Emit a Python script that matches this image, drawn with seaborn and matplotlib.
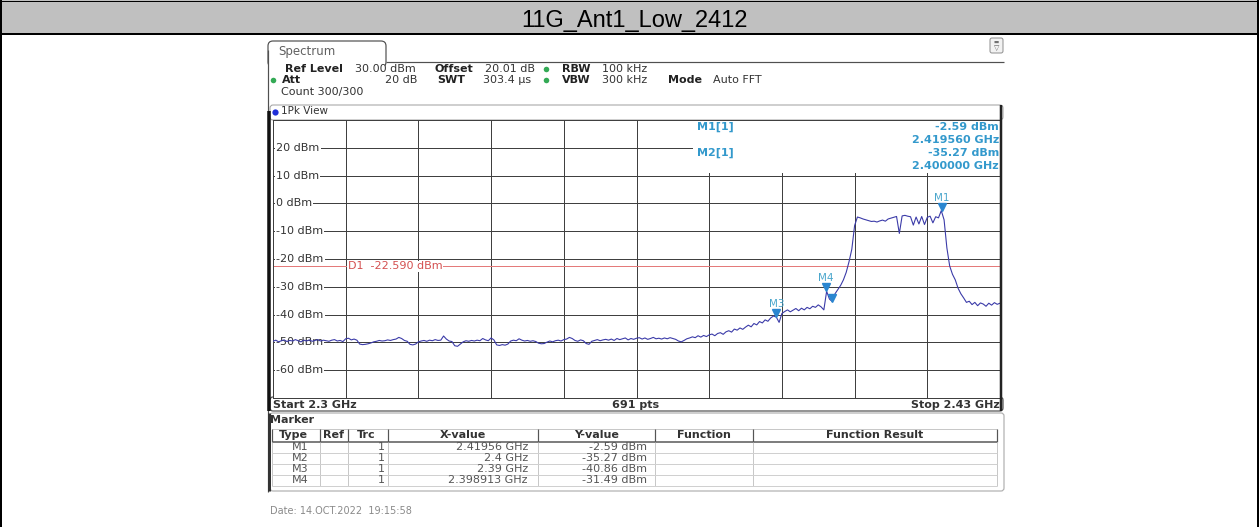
import matplotlib
matplotlib.use("Agg")
import numpy as np
import pandas as pd
import matplotlib.pyplot as plt
from matplotlib.patches import Rectangle, FancyBboxPatch
from matplotlib.transforms import offset_copy
import seaborn as sns

W, H = 1259, 527

TITLE = "11G_Ant1_Low_2412"
START_GHZ = 2.30
STOP_GHZ = 2.43
N_PTS = 691
REF_DBM = 30.0
BOTTOM_DBM = -70.0
D1_DBM = -22.59
Y_TICKS = [20, 10, 0, -10, -20, -30, -40, -50, -60]

# trace, one value every 0.5 MHz from 2300 to 2430 MHz
LEVEL_DBM = [
    -49.6, -49.2, -49.8, -49.4, -49.1, -49.7, -49.3, -49.5, -49.0, -49.4,
    -49.8, -49.2, -49.5, -49.1, -49.6, -49.3, -49.0, -49.5, -49.2, -49.4,
    -49.6, -49.2, -49.0, -49.5, -49.3, -49.7, -48.7, -48.5, -49.1, -48.8,
    -49.2, -50.6, -50.8, -50.7, -50.5, -50.2, -49.8, -49.6, -49.3, -49.5,
    -49.4, -49.1, -49.3, -49.0, -48.8, -48.2, -48.6, -49.3, -49.6, -50.7,
    -50.9, -50.6, -49.8, -49.5, -49.3, -49.6, -49.2, -49.4, -49.0, -49.3,
    -49.2, -47.7, -48.8, -49.5, -49.7, -51.2, -51.4, -50.6, -49.8, -49.4,
    -49.6, -49.3, -49.5, -49.2, -49.4, -48.6, -49.1, -49.4, -48.4, -49.1,
    -50.9, -51.1, -50.8, -51.0, -50.6, -49.5, -49.2, -49.4, -48.7, -49.2,
    -49.5, -49.3, -49.6, -49.4, -49.7, -50.3, -50.5, -50.4, -49.9, -49.5,
    -49.8, -49.4, -49.2, -49.5, -49.0, -48.8, -48.2, -48.6, -49.3, -49.6,
    -49.1, -49.4, -50.4, -50.7, -49.6, -49.3, -49.0, -49.4, -49.1, -48.9,
    -49.2, -48.8, -49.3, -48.6, -49.0, -48.7, -48.4, -49.1, -48.6, -48.9,
    -48.5, -48.3, -48.8, -48.4, -48.9, -48.6, -48.2, -48.7, -48.5, -48.8,
    -48.4, -48.7, -48.3, -48.6, -48.9, -49.5, -49.8, -49.3, -48.7, -48.4,
    -48.0, -48.3, -47.6, -48.1, -47.5, -47.9, -47.3, -47.0, -47.6, -46.8,
    -46.5, -47.1, -46.2, -45.8, -46.3, -45.2, -45.6, -44.8, -45.3, -44.5,
    -43.8, -44.4, -43.2, -43.7, -42.5, -43.0, -41.9, -42.4, -41.2, -40.5,
    -40.9, -42.8, -39.6, -38.9, -38.3, -39.0, -38.4, -37.8, -38.6, -37.7,
    -38.3, -37.4, -37.9, -37.0, -37.4, -36.5, -37.2, -38.3, -31.6, -34.4,
    -35.3, -32.5, -31.0, -29.5, -27.5, -24.8, -21.0, -16.5, -8.0, -4.9,
    -5.2, -5.6, -5.9, -6.2, -6.5, -6.4, -6.7, -6.3, -6.0, -6.4,
    -5.6, -5.3, -5.0, -4.7, -10.8, -4.5, -4.3, -4.6, -4.8, -7.8,
    -4.9, -7.4, -4.7, -7.6, -5.0, -4.6, -7.0, -4.8, -5.2, -2.6,
    -5.9, -16.0, -22.5, -25.5, -27.5, -30.5, -32.5, -34.0, -35.6, -35.2, -36.4,
    -35.6, -36.8, -35.8, -36.2, -37.0, -35.9, -36.6, -35.7, -36.3, -35.9,
]

MARKER_NAMES = ["M1", "M2", "M3", "M4"]
MARKER_GHZ = [2.41956, 2.4, 2.39, 2.398913]
MARKER_DBM = [-2.59, -35.27, -40.86, -31.49]
MARKER_X_TEXT = ["2.41956 GHz", "2.4 GHz", "2.39 GHz", "2.398913 GHz"]
MARKER_LABELLED = ["M1", "M3", "M4"]

TABLE_HEADER = ["Type", "Ref", "Trc", "X-value", "Y-value", "Function", "Function Result"]

sns.set_theme(style="white")
plt.rcParams["font.family"] = ["DejaVu Sans"]

PX = 0.72  # one pixel in points at dpi 100
TXT = "#333333"
CYAN = "#3399cc"
MK_BLUE = "#2a86d0"
TRACE = "#3a3aa8"
GRID = "#404040"

fig = plt.figure(figsize=(W / 100, H / 100), dpi=100)
fig.patch.set_facecolor("white")

bg = fig.add_axes([0, 0, 1, 1], label="bg")
bg.set_xlim(0, W)
bg.set_ylim(H, 0)
bg.axis("off")


def seg(a, xs, ys, color="#000000", px=1.0, **kw):
    a.plot(xs, ys, color=color, lw=px * PX, solid_capstyle="butt", **kw)


# page frame and title bar
bg.add_patch(Rectangle((0, 0), W, 33, facecolor="#c0c0c0", edgecolor="none"))
seg(bg, [0, W], [0.5, 0.5], px=1)
seg(bg, [0, W], [34, 34], px=2)
seg(bg, [1, 1], [0, H], px=2)
seg(bg, [W - 1, W - 1], [0, H], px=2)
bg.text(635, 27, TITLE, family=["Liberation Sans", "DejaVu Sans"], fontsize=17,
        ha="center", va="baseline", color="#000000", zorder=5)

# instrument window: tab and outline
bg.add_patch(FancyBboxPatch((268, 41), 118, 26, boxstyle="round,pad=0,rounding_size=5",
                            facecolor="white", edgecolor="#505050", lw=1.2 * PX))
bg.add_patch(Rectangle((268, 56), 117, 12, facecolor="white", edgecolor="none"))
seg(bg, [386, 1004], [62, 62], color="#505050", px=1.2)
seg(bg, [268, 268], [50, 492], color="#505050", px=1.2)
bg.text(278, 51, "Spectrum", fontsize=8.5, color="#606060", va="center")

# top right icon
bg.add_patch(FancyBboxPatch((990, 38), 13, 15, boxstyle="round,pad=0,rounding_size=2",
                            facecolor="#f2f2f2", edgecolor="#909090", lw=1 * PX))
bg.text(996.5, 42.5, "▬", fontsize=4, ha="center", va="center", color="#707070")
bg.text(996.5, 48.5, "▽", fontsize=5, ha="center", va="center", color="#606060")

# header lines
hdr = dict(fontsize=8, va="center", color=TXT)
bold = dict(fontsize=8, va="center", color="#222222", fontweight="bold")
y1, y2, y3 = 69, 80, 92
bg.text(285, y1, "Ref Level", **bold)
bg.text(355, y1, "30.00 dBm", **hdr)
bg.text(435, y1, "Offset", **bold)
bg.text(485, y1, "20.01 dB", **hdr)
bg.text(562, y1, "RBW", **bold)
bg.text(602, y1, "100 kHz", **hdr)
bg.text(282, y2, "Att", **bold)
bg.text(417, y2, "20 dB", ha="right", **hdr)
bg.text(437, y2, "SWT", **bold)
bg.text(483, y2, "303.4 µs", **hdr)
bg.text(562, y2, "VBW", **bold)
bg.text(602, y2, "300 kHz", **hdr)
bg.text(668, y2, "Mode", **bold)
bg.text(713, y2, "Auto FFT", **hdr)
bg.text(281, y3, "Count 300/300", **hdr)
for gx, gy in [(546, y1), (546, y2), (273, y2)]:
    bg.plot(gx, gy, "o", ms=4, color="#33aa55", mec="none")

# 1Pk View bar
bg.add_patch(FancyBboxPatch((270, 105), 733, 15, boxstyle="round,pad=0,rounding_size=3",
                            facecolor="white", edgecolor="#a0a0a0", lw=1 * PX))
bg.plot(275.5, 111.5, "o", ms=4.5, color="#1f2fd8", mec="none")
bg.text(281, 111.5, "1Pk View", fontsize=7.5, va="center", color=TXT)
seg(bg, [269.5, 269.5], [111, 411], color="#111111", px=3.5)

# bottom frequency bar
bg.add_patch(FancyBboxPatch((270, 397), 733, 14, boxstyle="round,pad=0,rounding_size=3",
                            facecolor="white", edgecolor="#505050", lw=1.2 * PX))
bg.text(273, 404.5, f"Start {START_GHZ:g} GHz", fontweight="bold", fontsize=8, va="center", color=TXT)
bg.text(636, 404.5, f"{N_PTS} pts", fontweight="bold", fontsize=8, va="center", ha="center", color=TXT)
bg.text(1000, 404.5, f"Stop {STOP_GHZ:g} GHz", fontweight="bold", fontsize=8, va="center", ha="right", color=TXT)

# marker table panel
bg.add_patch(FancyBboxPatch((270, 413), 734, 78, boxstyle="round,pad=0,rounding_size=3",
                            facecolor="white", edgecolor="#b0b0b0", lw=1.2 * PX))
seg(bg, [269.5, 269.5], [413, 491], color="#333333", px=3)
bg.text(270, 420, "Marker", fontweight="bold", fontsize=8, va="center", color=TXT)

col_sep = [272, 320, 348, 388, 538, 655, 753, 997]
seg(bg, [272, 997], [428.5, 428.5], color="#c8c8c8", px=1)
seg(bg, [272, 997], [441.5, 441.5], color="#555555", px=1.5)
for cx in col_sep:
    seg(bg, [cx, cx], [428.5, 441.5], color="#555555", px=1.2)
    seg(bg, [cx, cx], [441.5, 486], color="#c8c8c8", px=1)
row_y = [447, 458, 469, 480]
for ry in row_y:
    seg(bg, [272, 997], [ry + 5.5, ry + 5.5], color="#d0d0d0", px=1)
head_x = [293, 334, 366, 463, 597, 704, 875]
for hx, lab in zip(head_x, TABLE_HEADER):
    bg.text(hx, 435, lab, fontweight="bold", fontsize=8, va="center", ha="center", color=TXT)
for ry, name, xt, yv in zip(row_y, MARKER_NAMES, MARKER_X_TEXT, MARKER_DBM):
    bg.text(300, ry, name, fontsize=8, va="center", ha="center", color="#555555")
    bg.text(385, ry, "1", fontsize=8, va="center", ha="right", color="#555555")
    bg.text(528, ry, xt, fontsize=8, va="center", ha="right", color="#555555")
    bg.text(647, ry, f"{yv:.2f} dBm", fontsize=8, va="center", ha="right", color="#555555")

bg.text(270, 511, "Date: 14.OCT.2022  19:15:58", fontsize=7, va="center", color="#8a8a8a")

# spectrum grid
ax = fig.add_axes([273 / W, 1 - 398 / H, 727 / W, 278 / H], label="spec")
ax.set_facecolor("white")
ax.set_xlim(START_GHZ, STOP_GHZ)
ax.set_ylim(BOTTOM_DBM, REF_DBM)
ax.set_xticks(np.linspace(START_GHZ, STOP_GHZ, 11))
ax.set_yticks(np.arange(BOTTOM_DBM, REF_DBM + 1, 10))
ax.set_axisbelow(True)
ax.grid(True, color=GRID, lw=1 * PX)
ax.tick_params(length=0, labelbottom=False, labelleft=False)
for side, sp in ax.spines.items():
    sp.set_color(GRID)
    sp.set_linewidth(1 * PX)

freq_ghz = np.linspace(START_GHZ, STOP_GHZ, len(LEVEL_DBM))
df = pd.DataFrame({"freq": freq_ghz, "level": LEVEL_DBM})
sns.lineplot(data=df, x="freq", y="level", ax=ax, color=TRACE, lw=1.1 * PX, zorder=3)
ax.set_xlabel("")
ax.set_ylabel("")

span = STOP_GHZ - START_GHZ
for v in Y_TICKS:
    ax.text(START_GHZ + span * 3 / 727, v, f"{v} dBm", fontsize=8, ha="left", va="center",
            color=TXT, zorder=2.5,
            bbox=dict(boxstyle="square,pad=0.12", fc="white", ec="none"))

ax.axhline(D1_DBM, color="#e47a7a", lw=1 * PX, zorder=2)
ax.text(START_GHZ + span * 75 / 727, D1_DBM, f"D1  {D1_DBM:.3f} dBm", fontsize=8,
        ha="left", va="center", color="#d45050", zorder=2.5,
        bbox=dict(boxstyle="square,pad=0.05", fc="white", ec="none"))

# marker readout box in the upper right corner
ax.add_patch(Rectangle((420 / 727, 1 - 53 / 278), 307 / 727, 53 / 278, transform=ax.transAxes,
                       facecolor="white", edgecolor="none", zorder=2))

tri = offset_copy(ax.transData, fig=fig, x=0, y=3.5, units="dots")
lab = offset_copy(ax.transData, fig=fig, x=0, y=13, units="dots")
ax.plot(MARKER_GHZ, MARKER_DBM, "v", ms=5.5, color=MK_BLUE, mec=MK_BLUE, transform=tri,
        zorder=4, ls="none", clip_on=False)
for name, gx, gy in zip(MARKER_NAMES, MARKER_GHZ, MARKER_DBM):
    if name in MARKER_LABELLED:
        ax.text(gx, gy, name, transform=lab, fontsize=7.5, ha="center", va="center",
                color="#4aa6cc", zorder=4)

fg = fig.add_axes([0, 0, 1, 1], label="fg")
fg.set_xlim(0, W)
fg.set_ylim(H, 0)
fg.axis("off")
seg(fg, [1001.5, 1001.5], [105, 411], color="#222222", px=2.5)

info = dict(fontsize=8, fontweight="bold", color=CYAN, va="center")
fg.text(697, 127, "M1[1]", **info)
fg.text(999, 127, f"{MARKER_DBM[0]:.2f} dBm", ha="right", **info)
fg.text(999, 140, f"{MARKER_GHZ[0]:.6f} GHz", ha="right", **info)
fg.text(697, 153, "M2[1]", **info)
fg.text(999, 153, f"{MARKER_DBM[1]:.2f} dBm", ha="right", **info)
fg.text(999, 166, f"{MARKER_GHZ[1]:.6f} GHz", ha="right", **info)

fig.savefig("out.png", dpi=100)
